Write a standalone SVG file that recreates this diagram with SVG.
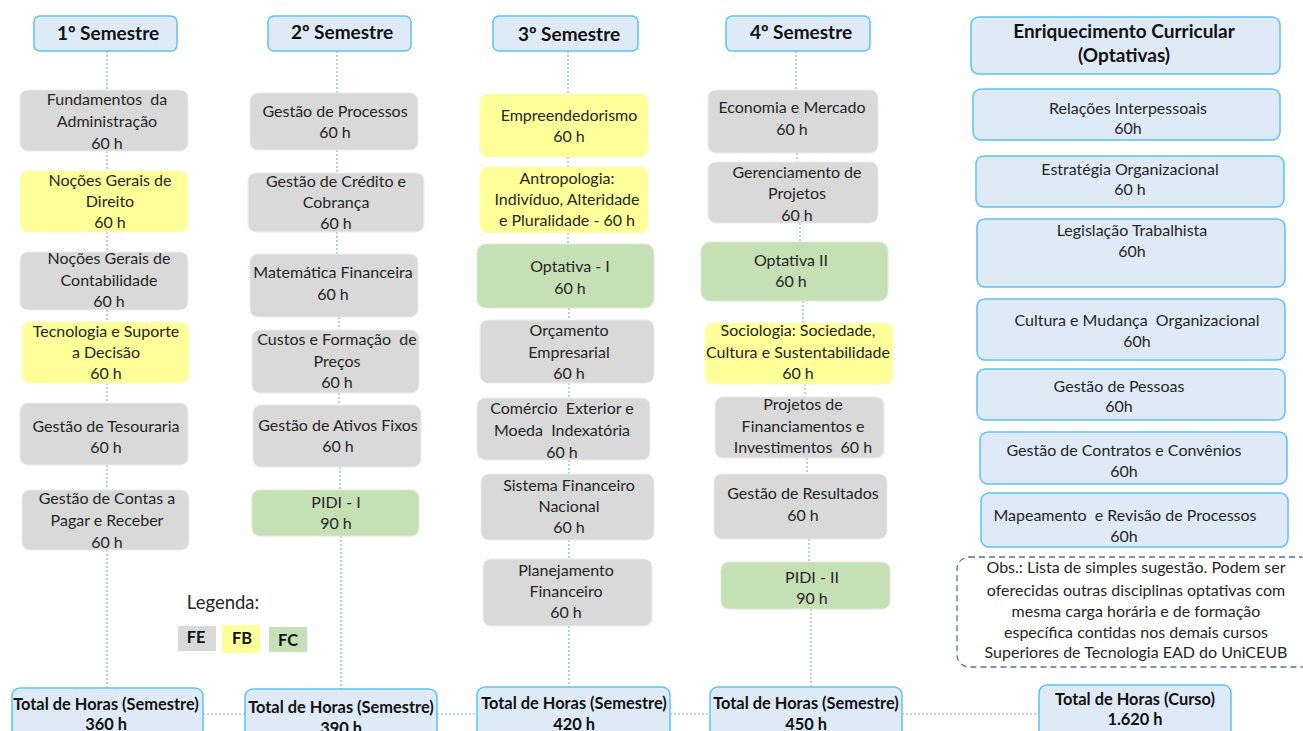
<svg xmlns="http://www.w3.org/2000/svg" width="1303" height="731" viewBox="0 0 1303 731">
<style>
.bg{fill:#ffffff}
.fe{fill:#d9d9d9;stroke:#ececec;stroke-width:1}
.fb{fill:#ffff99;stroke:#fbfbc8;stroke-width:1}
.fc{fill:#c5e0b4;stroke:#dcecd2;stroke-width:1}
.hd{fill:#deebf7;stroke:#5cc3f0;stroke-width:1.5}
.t{font-family:Lato,"Liberation Sans",sans-serif;font-size:16px;fill:#262626;text-anchor:middle;white-space:pre}
.b{font-family:Lato,"Liberation Sans",sans-serif;font-weight:bold;fill:#111111;text-anchor:middle}
.h{font-size:19px}
.tb{font-size:16.4px}
.con line{stroke:#8faadc;stroke-width:1.2;stroke-dasharray:2 2;fill:none}
.obs{fill:#ffffff;stroke:#5b6f93;stroke-width:1.3;stroke-dasharray:6 4}
</style>
<rect class="bg" x="0" y="0" width="1303" height="731"/>
<g id="connectors" class="con">
<line x1="107" y1="51" x2="107" y2="90"/><line x1="107" y1="151" x2="107" y2="171"/><line x1="107" y1="232" x2="107" y2="252"/><line x1="107" y1="310" x2="107" y2="322"/><line x1="107" y1="383" x2="107" y2="403"/><line x1="107" y1="465" x2="107" y2="490"/><line x1="107" y1="550" x2="107" y2="688"/>
<line x1="337" y1="51" x2="337" y2="93"/><line x1="337" y1="150" x2="337" y2="173"/><line x1="337" y1="232" x2="337" y2="254"/><line x1="339" y1="317" x2="339" y2="330"/><line x1="339" y1="393" x2="339" y2="405"/><line x1="340" y1="467" x2="340" y2="490"/><line x1="341" y1="536" x2="341" y2="689"/>
<line x1="568" y1="51" x2="568" y2="94"/><line x1="568" y1="157" x2="568" y2="167"/><line x1="568" y1="233" x2="568" y2="244"/><line x1="569" y1="308" x2="569" y2="320"/><line x1="569" y1="383" x2="569" y2="398"/><line x1="569" y1="460" x2="569" y2="474"/><line x1="569" y1="540" x2="569" y2="559"/><line x1="569" y1="626" x2="569" y2="687"/>
<line x1="796" y1="51" x2="796" y2="90"/><line x1="797" y1="153" x2="797" y2="162"/><line x1="800" y1="223" x2="800" y2="242"/><line x1="803" y1="301" x2="803" y2="323"/><line x1="805" y1="384" x2="805" y2="397"/><line x1="807" y1="458" x2="807" y2="474"/><line x1="809" y1="539" x2="809" y2="562"/><line x1="811" y1="609" x2="811" y2="687"/>
<line x1="203" y1="714" x2="245" y2="714"/><line x1="437" y1="714" x2="477" y2="714"/><line x1="670" y1="714" x2="710" y2="714"/><line x1="902" y1="714" x2="1039" y2="714"/>
</g>
<g id="h1"><rect class="hd" x="34" y="16" width="143" height="35" rx="6"/><text class="b h" x="108" y="40">1º Semestre</text></g>
<g id="h2"><rect class="hd" x="268" y="16" width="143" height="35" rx="6"/><text class="b h" x="342" y="39">2º Semestre</text></g>
<g id="h3"><rect class="hd" x="493" y="16" width="145" height="35" rx="6"/><text class="b h" x="569" y="41">3º Semestre</text></g>
<g id="h4"><rect class="hd" x="726" y="16" width="144" height="35" rx="6"/><text class="b h" x="801" y="39">4º Semestre</text></g>
<g id="h5"><rect class="hd" x="971" y="17" width="309" height="57" rx="8"/><text class="b h" x="1124" y="38">Enriquecimento Curricular</text><text class="b h" x="1124" y="62">(Optativas)</text></g>

<g id="c1n1"><rect class="fe" x="20" y="90" width="168" height="61" rx="8"/><text class="t" x="107" y="105">Fundamentos  da</text><text class="t" x="107" y="127">Administração</text><text class="t" x="107" y="149">60 h</text></g>
<g id="c1n2"><rect class="fb" x="20" y="171" width="168" height="61" rx="8"/><text class="t" x="110" y="186">Noções Gerais de</text><text class="t" x="110" y="207">Direito</text><text class="t" x="110" y="228">60 h</text></g>
<g id="c1n3"><rect class="fe" x="20" y="252" width="168" height="58" rx="8"/><text class="t" x="109" y="264">Noções Gerais de</text><text class="t" x="109" y="286">Contabilidade</text><text class="t" x="109" y="307">60 h</text></g>
<g id="c1n4"><rect class="fb" x="22" y="322" width="167" height="61" rx="8"/><text class="t" x="106" y="337">Tecnologia e Suporte</text><text class="t" x="106" y="358">a Decisão</text><text class="t" x="106" y="379">60 h</text></g>
<g id="c1n5"><rect class="fe" x="20" y="403" width="168" height="62" rx="8"/><text class="t" x="106" y="432">Gestão de Tesouraria</text><text class="t" x="106" y="453">60 h</text></g>
<g id="c1n6"><rect class="fe" x="22" y="490" width="167" height="60" rx="8"/><text class="t" x="107" y="504">Gestão de Contas a</text><text class="t" x="107" y="526">Pagar e Receber</text><text class="t" x="107" y="548">60 h</text></g>

<g id="c2n1"><rect class="fe" x="250" y="93" width="168" height="57" rx="8"/><text class="t" x="335" y="117">Gestão de Processos</text><text class="t" x="335" y="138">60 h</text></g>
<g id="c2n2"><rect class="fe" x="248" y="173" width="176" height="59" rx="8"/><text class="t" x="336" y="187">Gestão de Crédito e</text><text class="t" x="336" y="208">Cobrança</text><text class="t" x="336" y="229">60 h</text></g>
<g id="c2n3"><rect class="fe" x="250" y="254" width="168" height="63" rx="8"/><text class="t" x="333" y="278">Matemática Financeira</text><text class="t" x="333" y="300">60 h</text></g>
<g id="c2n4"><rect class="fe" x="252" y="330" width="167" height="63" rx="8"/><text class="t" x="337" y="345">Custos e Formação  de</text><text class="t" x="337" y="367">Preços</text><text class="t" x="337" y="388">60 h</text></g>
<g id="c2n5"><rect class="fe" x="253" y="405" width="168" height="62" rx="8"/><text class="t" x="338" y="431">Gestão de Ativos Fixos</text><text class="t" x="338" y="452">60 h</text></g>
<g id="c2n6"><rect class="fc" x="252" y="490" width="167" height="46" rx="8"/><text class="t" x="336" y="508">PIDI - I</text><text class="t" x="336" y="529">90 h</text></g>

<g id="c3n1"><rect class="fb" x="480" y="94" width="168" height="63" rx="8"/><text class="t" x="569" y="121">Empreendedorismo</text><text class="t" x="569" y="142">60 h</text></g>
<g id="c3n2"><rect class="fb" x="480" y="167" width="168" height="66" rx="8"/><text class="t" x="567" y="184">Antropologia:</text><text class="t" x="567" y="205">Indivíduo, Alteridade</text><text class="t" x="567" y="226">e Pluralidade - 60 h</text></g>
<g id="c3n3"><rect class="fc" x="477" y="244" width="177" height="64" rx="9"/><text class="t" x="570" y="272">Optativa - I</text><text class="t" x="570" y="294">60 h</text></g>
<g id="c3n4"><rect class="fe" x="480" y="320" width="174" height="63" rx="8"/><text class="t" x="569" y="336">Orçamento</text><text class="t" x="569" y="358">Empresarial</text><text class="t" x="569" y="379">60 h</text></g>
<g id="c3n5"><rect class="fe" x="477" y="398" width="173" height="62" rx="8"/><text class="t" x="562" y="414">Comércio  Exterior e</text><text class="t" x="562" y="436">Moeda  Indexatória</text><text class="t" x="562" y="458">60 h</text></g>
<g id="c3n6"><rect class="fe" x="481" y="474" width="173" height="66" rx="8"/><text class="t" x="569" y="491">Sistema Financeiro</text><text class="t" x="569" y="512">Nacional</text><text class="t" x="569" y="533">60 h</text></g>
<g id="c3n7"><rect class="fe" x="483" y="559" width="169" height="67" rx="8"/><text class="t" x="566" y="576">Planejamento</text><text class="t" x="566" y="597">Financeiro</text><text class="t" x="566" y="618">60 h</text></g>

<g id="c4n1"><rect class="fe" x="708" y="90" width="170" height="63" rx="8"/><text class="t" x="792" y="113">Economia e Mercado</text><text class="t" x="792" y="135">60 h</text></g>
<g id="c4n2"><rect class="fe" x="708" y="162" width="170" height="61" rx="8"/><text class="t" x="797" y="178">Gerenciamento de</text><text class="t" x="797" y="199">Projetos</text><text class="t" x="797" y="221">60 h</text></g>
<g id="c4n3"><rect class="fc" x="701" y="242" width="187" height="59" rx="9"/><text class="t" x="791" y="266">Optativa II</text><text class="t" x="791" y="287">60 h</text></g>
<g id="c4n4"><rect class="fb" x="705" y="323" width="188" height="61" rx="8"/><text class="t" x="798" y="336">Sociologia: Sociedade,</text><text class="t" x="798" y="358">Cultura e Sustentabilidade</text><text class="t" x="798" y="379">60 h</text></g>
<g id="c4n5"><rect class="fe" x="715" y="397" width="169" height="61" rx="8"/><text class="t" x="803" y="410">Projetos de</text><text class="t" x="803" y="432">Financiamentos e</text><text class="t" x="803" y="453">Investimentos  60 h</text></g>
<g id="c4n6"><rect class="fe" x="714" y="474" width="173" height="65" rx="8"/><text class="t" x="803" y="499">Gestão de Resultados</text><text class="t" x="803" y="521">60 h</text></g>
<g id="c4n7"><rect class="fc" x="721" y="562" width="169" height="47" rx="8"/><text class="t" x="812" y="583">PIDI - II</text><text class="t" x="812" y="604">90 h</text></g>

<g id="o1"><rect class="hd" x="973" y="89" width="307" height="51" rx="8"/><text class="t" x="1128" y="114">Relações Interpessoais</text><text class="t" x="1128" y="134">60h</text></g>
<g id="o2"><rect class="hd" x="976" y="156" width="308" height="51" rx="8"/><text class="t" x="1130" y="175">Estratégia Organizacional</text><text class="t" x="1130" y="195">60 h</text></g>
<g id="o3"><rect class="hd" x="977" y="219" width="308" height="68" rx="8"/><text class="t" x="1132" y="236">Legislação Trabalhista</text><text class="t" x="1132" y="257">60h</text></g>
<g id="o4"><rect class="hd" x="977" y="299" width="308" height="61" rx="8"/><text class="t" x="1137" y="326">Cultura e Mudança  Organizacional</text><text class="t" x="1137" y="347">60h</text></g>
<g id="o5"><rect class="hd" x="977" y="369" width="308" height="51" rx="8"/><text class="t" x="1119" y="392">Gestão de Pessoas</text><text class="t" x="1119" y="412">60h</text></g>
<g id="o6"><rect class="hd" x="980" y="432" width="307" height="52" rx="8"/><text class="t" x="1124" y="456">Gestão de Contratos e Convênios</text><text class="t" x="1124" y="477">60h</text></g>
<g id="o7"><rect class="hd" x="981" y="493" width="307" height="54" rx="8"/><text class="t" x="1125" y="521">Mapeamento  e Revisão de Processos</text><text class="t" x="1124" y="542">60h</text></g>
<g id="obs"><rect class="obs" x="957" y="557" width="356" height="110" rx="12"/><text class="t" x="1136" y="573">Obs.: Lista de simples sugestão. Podem ser</text><text class="t" x="1136" y="596">oferecidas outras disciplinas optativas com</text><text class="t" x="1136" y="617">mesma carga horária e de formação</text><text class="t" x="1136" y="638">específica contidas nos demais cursos</text><text class="t" x="1136" y="658">Superiores de Tecnologia EAD do UniCEUB</text></g>

<g id="legend"><text class="t" x="223" y="609" style="font-size:18.5px">Legenda:</text>
<rect x="178" y="626" width="38" height="25" fill="#d9d9d9"/><text class="b tb" x="196" y="643">FE</text>
<rect x="222" y="625" width="38" height="28" fill="#ffff99"/><text class="b tb" x="242" y="644">FB</text>
<rect x="269" y="627" width="38" height="25" fill="#c5e0b4"/><text class="b tb" x="288" y="646">FC</text></g>

<g id="t1"><rect class="hd" x="12" y="688" width="191" height="60" rx="8"/><text class="b tb" x="106" y="710">Total de Horas (Semestre)</text><text class="b tb" x="106" y="730">360 h</text></g>
<g id="t2"><rect class="hd" x="245" y="689" width="192" height="60" rx="8"/><text class="b tb" x="341" y="713">Total de Horas (Semestre)</text><text class="b tb" x="341" y="734">390 h</text></g>
<g id="t3"><rect class="hd" x="477" y="687" width="193" height="60" rx="8"/><text class="b tb" x="574" y="709">Total de Horas (Semestre)</text><text class="b tb" x="574" y="730">420 h</text></g>
<g id="t4"><rect class="hd" x="710" y="687" width="192" height="60" rx="8"/><text class="b tb" x="806" y="709">Total de Horas (Semestre)</text><text class="b tb" x="806" y="730">450 h</text></g>
<g id="t5"><rect class="hd" x="1039" y="685" width="192" height="60" rx="8"/><text class="b tb" x="1135" y="705">Total de Horas (Curso)</text><text class="b tb" x="1135" y="725">1.620 h</text></g>
</svg>
